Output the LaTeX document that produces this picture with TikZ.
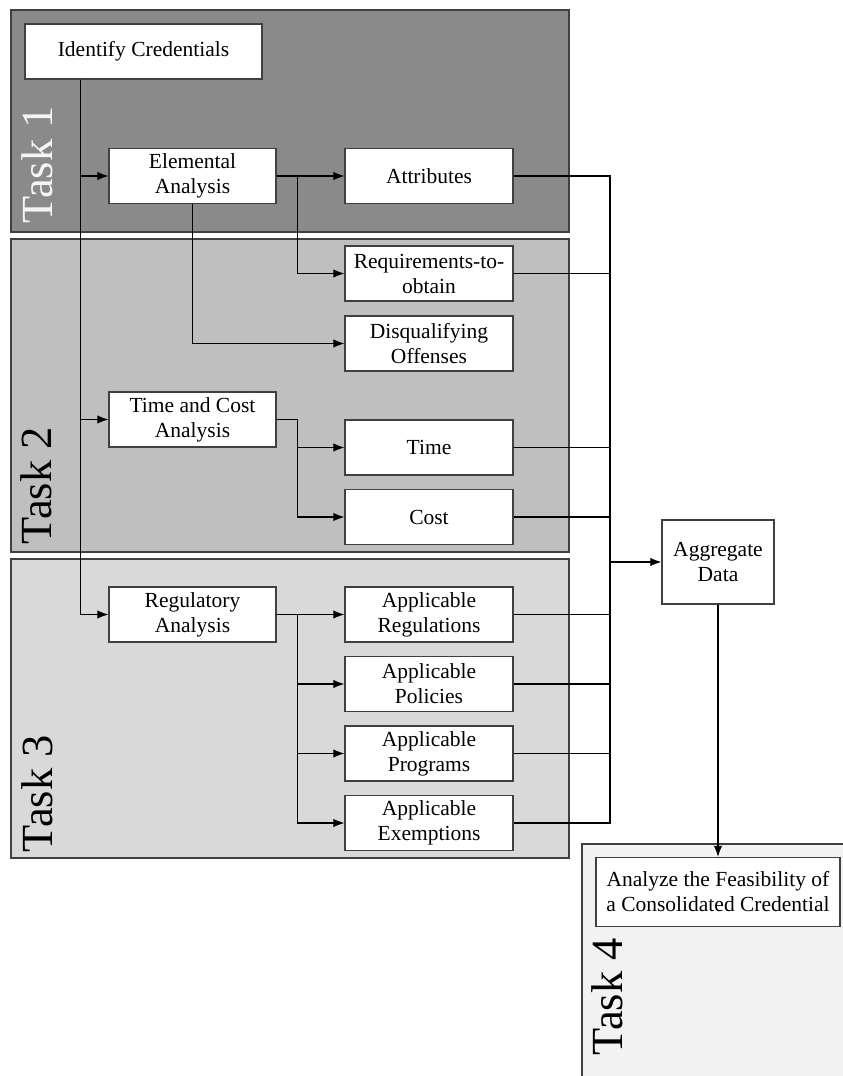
\documentclass[tikz,border=0pt]{standalone}
\usepackage{fontspec}
\setmainfont{Liberation Serif}
\usetikzlibrary{arrows.meta}
\begin{document}
\begin{tikzpicture}[x=1pt,y=-1pt,
  taskbox/.style={draw=black!75, line width=1.3pt},
  box/.style={draw=black!75, line width=1.3pt, fill=white, align=center, inner sep=0pt,
    font=\fontsize{21.5}{25}\selectfont},
  sbox/.style={box, minimum width=168pt, minimum height=55pt},
  tasklabel/.style={rotate=90, anchor=base west, inner sep=0pt, outer sep=0pt,
    font=\fontsize{44.5}{50}\selectfont},
  conn/.style={draw=black, line width=1.1pt},
  arr/.style={conn, -{Latex[length=11pt,width=8.5pt]}}
]
\clip (0,0) rectangle (843,1076);
\fill[white] (0,0) rectangle (843,1076);
% task panels
\draw[taskbox, fill=black!46] (11,10) rectangle (569,232);
\draw[taskbox, fill=black!25] (11,239) rectangle (569,552);
\draw[taskbox, fill=black!15] (11,559) rectangle (569,858);
\draw[taskbox, fill=black!5] (582,844) rectangle (860,1090);
\node[tasklabel, text=black!4] (L1) at (52,223) {Task 1};
\node[tasklabel] (L2) at (51,544) {Task 2};
\node[tasklabel] (L3) at (52,852) {Task 3};
\node[tasklabel] (L4) at (622,1055) {Task 4};
% nodes
\node[box, minimum width=237pt, minimum height=55pt] (IC) at (143.5,51.5) {Identify Credentials};
\node[sbox, minimum width=167pt] (EA) at (192.5,176) {Elemental\\Analysis};
\node[sbox] (AT) at (429,176) {Attributes};
\node[sbox] (RQ) at (429,273.5) {Requirements-to-\\obtain};
\node[sbox] (DQ) at (429,343.5) {Disqualifying\\Offenses};
\node[sbox, minimum width=167pt] (TC) at (192.5,419.5) {Time and Cost\\Analysis};
\node[sbox] (TI) at (429,447.5) {Time};
\node[sbox] (CO) at (429,517) {Cost};
\node[sbox, minimum width=167pt] (RA) at (192.5,614.5) {Regulatory\\Analysis};
\node[sbox] (AR) at (429,614.5) {Applicable\\Regulations};
\node[sbox] (AP) at (429,684) {Applicable\\Policies};
\node[sbox] (AG) at (429,753.5) {Applicable\\Programs};
\node[sbox] (AE) at (429,823) {Applicable\\Exemptions};
\node[box, minimum width=112pt, minimum height=84pt] (AD) at (718,562) {Aggregate\\Data};
\node[box, minimum width=244pt, minimum height=69pt] (AF) at (718,892) {Analyze the Feasibility of\\a Consolidated Credential};
% connectors
\coordinate (trunk) at ([xshift=56pt]IC.south west);
\draw[arr] (trunk) |- (EA);
\draw[arr] (trunk) |- (TC);
\draw[arr] (trunk) |- (RA);
\draw[arr] (EA) -- (AT);
\draw[arr] (EA.east) -- ++(21,0) |- (RQ);
\draw[arr] (EA.south) |- (DQ);
\draw[arr] (TC.east) -- ++(21,0) |- (TI);
\draw[arr] (TC.east) -- ++(21,0) |- (CO);
\draw[arr] (RA) -- (AR);
\draw[arr] (RA.east) -- ++(21,0) |- (AP);
\draw[arr] (RA.east) -- ++(21,0) |- (AG);
\draw[arr] (RA.east) -- ++(21,0) |- (AE);
\coordinate (bus) at (610,0);
\draw[conn] (AT.east) -- (AT.east -| bus) -- (AE.east -| bus) -- (AE.east);
\draw[conn] (RQ.east) -- (RQ.east -| bus);
\draw[conn] (TI.east) -- (TI.east -| bus);
\draw[conn] (CO.east) -- (CO.east -| bus);
\draw[conn] (AR.east) -- (AR.east -| bus);
\draw[conn] (AP.east) -- (AP.east -| bus);
\draw[conn] (AG.east) -- (AG.east -| bus);
\draw[arr] (AD.west -| bus) -- (AD);
\draw[arr] (AD) -- (AF);
\end{tikzpicture}
\end{document}
